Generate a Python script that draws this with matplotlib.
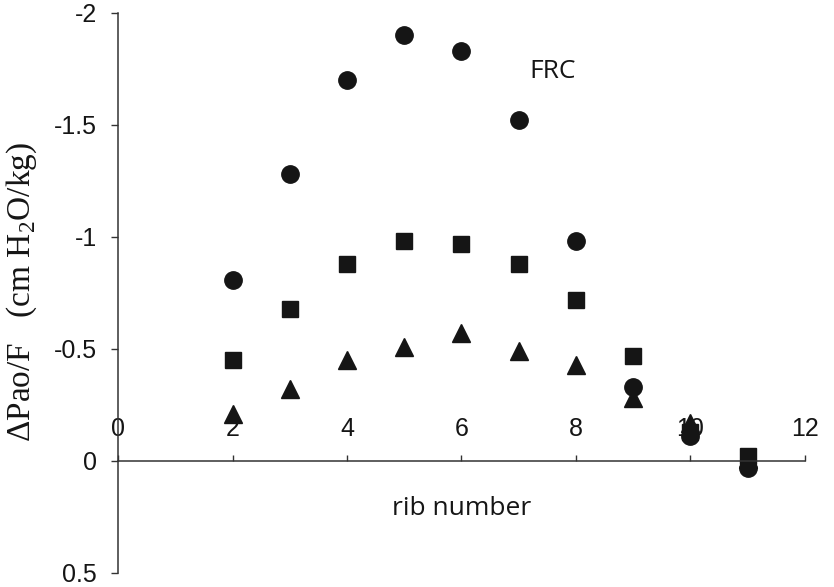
import matplotlib.pyplot as plt

plt.rcParams['mathtext.fontset'] = 'custom'
plt.rcParams['mathtext.rm'] = 'Liberation Serif'

ribs = [2, 3, 4, 5, 6, 7, 8, 9, 10, 11]
frc = [-0.81, -1.28, -1.70, -1.90, -1.83, -1.52, -0.98, -0.33, -0.11, 0.03]
mid = [-0.45, -0.68, -0.88, -0.98, -0.97, -0.88, -0.72, -0.47, -0.13, -0.02]
low = [-0.21, -0.32, -0.45, -0.51, -0.57, -0.49, -0.43, -0.28, -0.17, -0.01]

xticks = [0, 2, 4, 6, 8, 10, 12]
yticks = [-2, -1.5, -1, -0.5, 0, 0.5]
ylabels = ['-2', '-1.5', '-1', '-0.5', '0', '0.5']

ink = '#151515'

fig = plt.figure(figsize=(8.34, 5.87), dpi=100)
ax = fig.add_axes([0.1415, 0.0239, 0.8237, 0.954])

ax.plot(ribs, low, '^', ms=12.5, color=ink, mec=ink)
ax.plot(ribs, mid, 's', ms=12, color=ink, mec=ink)
ax.plot(ribs, frc, 'o', ms=12.5, color=ink, mec=ink)

ax.set_xlim(0, 12)
ax.set_ylim(0.5, -2)

# axes cross at the origin, x labels sit above the line
ax.spines['right'].set_visible(False)
ax.spines['bottom'].set_visible(False)
ax.spines['top'].set_position(('data', 0))
ax.spines['left'].set_position(('data', 0))
for s in ('top', 'left'):
    ax.spines[s].set_color('#333333')
    ax.spines[s].set_linewidth(1.1)

ax.xaxis.set_ticks_position('top')
ax.set_xticks(xticks)
ax.set_xticklabels([str(t) for t in xticks])
ax.tick_params(axis='x', direction='out', length=4.5, width=1, pad=10,
               labelsize=18, colors='#333333', labelcolor=ink)
ax.set_yticks(yticks)
ax.set_yticklabels(ylabels)
ax.tick_params(axis='y', direction='out', length=5, width=1, pad=10,
               labelsize=18, colors='#333333', labelcolor=ink)
for lab in ax.get_xticklabels() + ax.get_yticklabels():
    lab.set_fontfamily('Liberation Sans')

ax.text(6.0, 0.21, 'rib number', ha='center', va='center',
        fontsize=19, family='Open Sans', color=ink)
ax.text(7.6, -1.74, 'FRC', ha='center', va='center',
        fontsize=19, family='Open Sans', color=ink)

fig.text(0.026, 0.502, r'$\Delta$Pao/F   (cm H$_\mathrm{2}$O/kg)', rotation=90,
         ha='center', va='center', fontsize=24, family='Liberation Serif',
         color=ink)

fig.savefig('out.png', dpi=100)
